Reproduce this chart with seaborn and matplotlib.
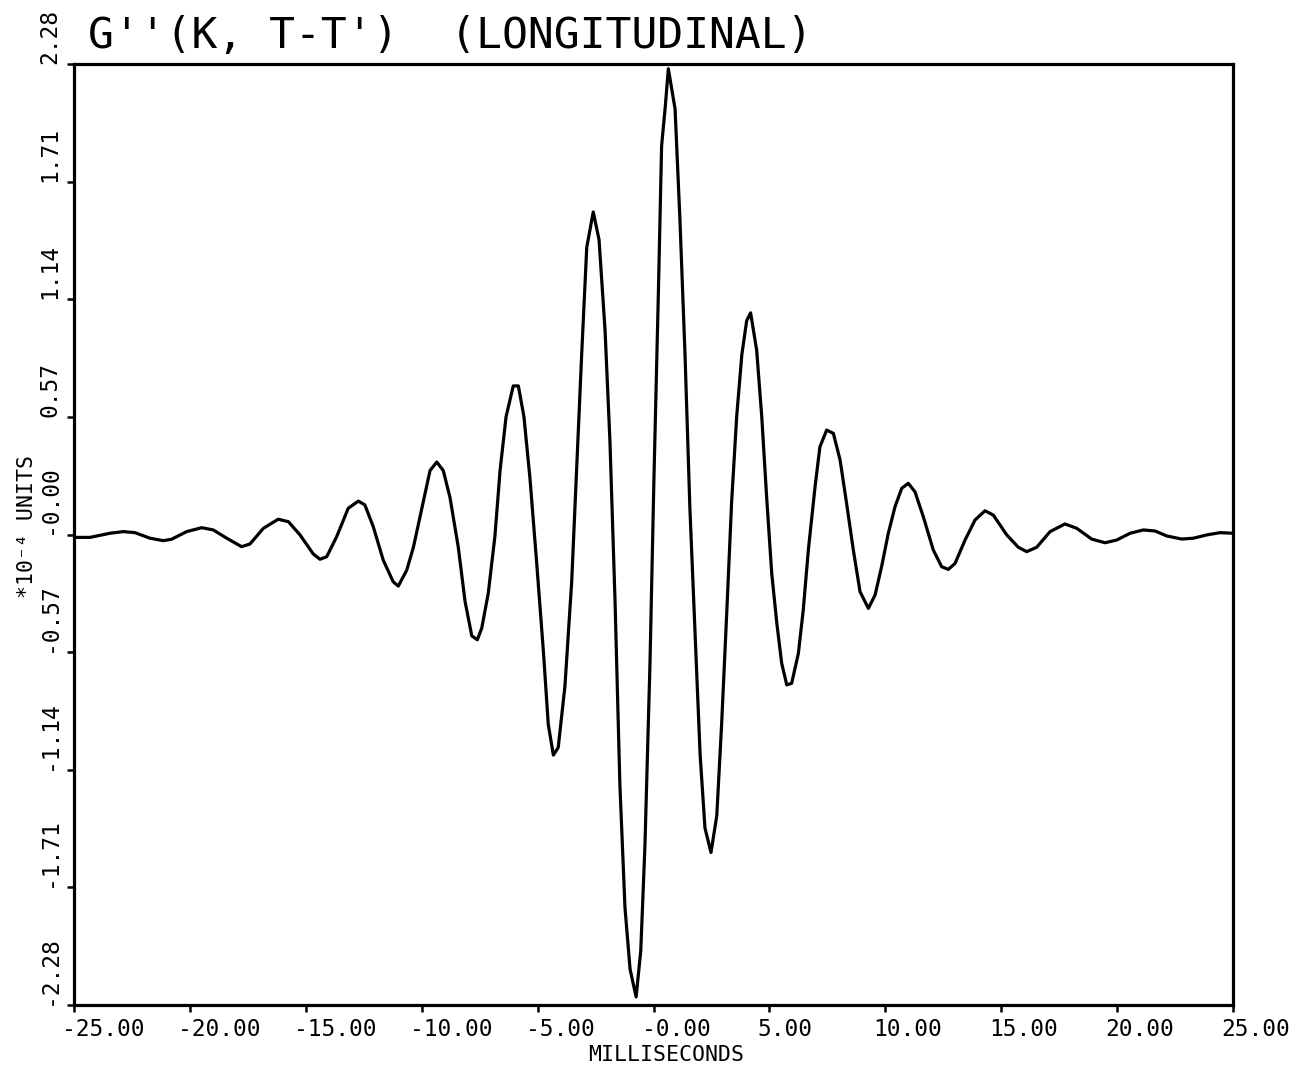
import matplotlib
matplotlib.use("Agg")
import matplotlib.pyplot as plt
from matplotlib.transforms import ScaledTranslation
import seaborn as sns
import pandas as pd

# ---- data (time in ms, value in 1e-4 units) ----
time_ms = [-25.00, -24.31, -23.45, -22.87, -22.37, -21.72, -21.15, -20.79, -20.14,
           -19.49, -18.99, -18.41, -17.77, -17.41, -16.83, -16.19, -15.75, -15.25, -14.68,
           -14.39, -14.10, -13.67, -13.17, -12.73, -12.45, -12.09, -11.66, -11.23, -11.01,
           -10.65, -10.36, -9.93, -9.64, -9.35, -9.07, -8.78, -8.42, -8.13, -7.84,
           -7.60, -7.41, -7.13, -6.84, -6.62, -6.36, -6.05, -5.83, -5.59, -5.33,
           -5.04, -4.75, -4.54, -4.32, -4.11, -3.82, -3.53, -3.31, -3.10, -2.88,
           -2.60, -2.35, -2.09, -1.88, -1.66, -1.45, -1.23, -1.01, -0.75, -0.55,
           -0.37, -0.15, 0.02, 0.21, 0.35, 0.50, 0.64, 0.93, 1.14, 1.36,
           1.57, 1.79, 2.01, 2.22, 2.48, 2.73, 2.94, 3.16, 3.37, 3.59,
           3.81, 4.02, 4.19, 4.45, 4.67, 4.88, 5.10, 5.32, 5.53, 5.75,
           5.96, 6.25, 6.46, 6.68, 6.97, 7.18, 7.47, 7.76, 8.05, 8.33,
           8.62, 8.91, 9.27, 9.56, 9.84, 10.13, 10.42, 10.71, 10.99, 11.28,
           11.64, 12.07, 12.43, 12.72, 13.01, 13.44, 13.87, 14.30, 14.66, 15.24,
           15.74, 16.10, 16.53, 17.11, 17.75, 18.26, 18.90, 19.48, 19.98, 20.56,
           21.13, 21.64, 22.14, 22.79, 23.29, 23.87, 24.44, 25.00]

g_values = [-0.014, -0.014, 0.006, 0.014, 0.009, -0.018, -0.030, -0.023, 0.014,
            0.033, 0.022, -0.018, -0.059, -0.046, 0.030, 0.074, 0.062, -0.002, -0.094,
            -0.120, -0.108, -0.011, 0.127, 0.162, 0.143, 0.038, -0.124, -0.229, -0.250,
            -0.174, -0.063, 0.161, 0.310, 0.351, 0.310, 0.180, -0.063, -0.324, -0.491,
            -0.510, -0.454, -0.286, -0.007, 0.310, 0.571, 0.720, 0.720, 0.571, 0.273,
            -0.137, -0.566, -0.920, -1.069, -1.032, -0.734, -0.230, 0.329, 0.869, 1.391,
            1.563, 1.429, 0.990, 0.455, -0.320, -1.213, -1.809, -2.107, -2.241, -2.018,
            -1.511, -0.617, 0.276, 1.169, 1.884, 2.063, 2.257, 2.063, 1.527, 0.871,
            0.127, -0.469, -1.065, -1.422, -1.541, -1.363, -0.916, -0.379, 0.157, 0.574,
            0.871, 1.036, 1.074, 0.894, 0.571, 0.183, -0.188, -0.430, -0.624, -0.729,
            -0.721, -0.576, -0.366, -0.075, 0.232, 0.425, 0.506, 0.490, 0.361, 0.151,
            -0.075, -0.277, -0.358, -0.293, -0.156, 0.006, 0.135, 0.224, 0.248, 0.207,
            0.086, -0.075, -0.156, -0.169, -0.140, -0.027, 0.070, 0.115, 0.094, -0.002,
            -0.062, -0.083, -0.062, 0.014, 0.051, 0.030, -0.022, -0.040, -0.027, 0.006,
            0.022, 0.017, -0.007, -0.022, -0.018, -0.002, 0.009, 0.006]

x_ticks = [-25, -20, -15, -10, -5, 0, 5, 10, 15, 20, 25]
x_tick_labels = ["-25.00", "-20.00", "-15.00", "-10.00", "-5.00", "-0.00",
                 "5.00", "10.00", "15.00", "20.00", "25.00"]
y_ticks = [2.28, 1.71, 1.14, 0.57, 0.0, -0.57, -1.14, -1.71, -2.28]
y_tick_labels = ["2.28", "1.71", "1.14", "0.57", "-0.00", "-0.57", "-1.14", "-1.71", "-2.28"]

title_text = "G''(K, T-T')  (LONGITUDINAL)"
x_label = "MILLISECONDS"
y_label = "*10\u207b\u2074 UNITS"

# ---- style ----
sns.set_style("ticks")
plt.rcParams["font.family"] = ["DejaVu Sans Mono", "DejaVu Sans"]

W, H = 1302, 1070
fig = plt.figure(figsize=(W / 100, H / 100), dpi=100)
fig.patch.set_facecolor("white")
ax = fig.add_axes([74 / W, 1 - 1005 / H, (1233 - 74) / W, (1005 - 64) / H])
ax.set_facecolor("white")

df = pd.DataFrame({"t": time_ms, "g": g_values})
sns.lineplot(data=df, x="t", y="g", ax=ax, color="black", linewidth=2.3,
             estimator=None, sort=False)

ax.set_xlim(-25, 25)
ax.set_ylim(-2.28, 2.28)
ax.set_xlabel("")
ax.set_ylabel("")

for sp in ax.spines.values():
    sp.set_visible(True)
    sp.set_linewidth(2.3)
    sp.set_color("black")

ax.tick_params(axis="both", direction="out", length=5, width=1.8, colors="black")
ax.tick_params(axis="x", pad=4, labelsize=16.5)
ax.tick_params(axis="y", pad=4, labelsize=16.5)

ax.set_xticks(x_ticks)
ax.set_xticklabels(x_tick_labels, ha="left")
off = ScaledTranslation(-12 / 100, 0, fig.dpi_scale_trans)
for lab in ax.get_xticklabels():
    lab.set_transform(lab.get_transform() + off)

ax.set_yticks(y_ticks)
ax.set_yticklabels(y_tick_labels, rotation=90, va="bottom", ha="right")

fig.text(88 / W, 1 - 48 / H, title_text, ha="left", va="baseline",
         fontsize=31, color="black")
fig.text(666 / W, 1 - 1055 / H, x_label, ha="center", va="center",
         fontsize=15.5, color="black")
fig.text(27 / W, 1 - 527 / H, y_label, ha="center", va="center",
         rotation=90, fontsize=15.5, color="black")

fig.savefig("out.png", dpi=100, facecolor="white")
